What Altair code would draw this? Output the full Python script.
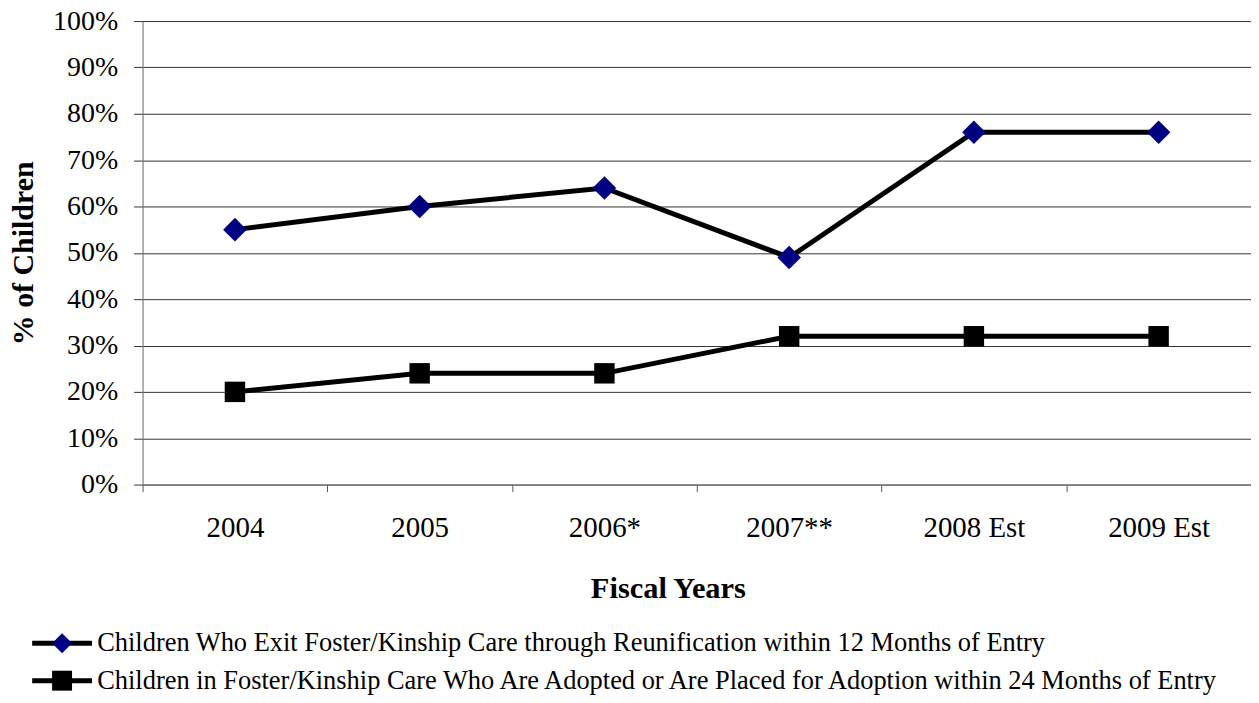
import altair as alt
import pandas as pd

years = ["2004", "2005", "2006*", "2007**", "2008 Est", "2009 Est"]
series_names = [
    "Children Who Exit Foster/Kinship Care through Reunification within 12 Months of Entry",
    "Children in Foster/Kinship Care Who Are Adopted or Are Placed for Adoption within 24 Months of Entry",
]
reunification = [55, 60, 64, 49, 76, 76]
adoption = [20, 24, 24, 32, 32, 32]
marker_shapes = ["diamond", "square"]
marker_colors = ["#000080", "black"]
marker_sizes = [560, 420]

rows = []
for name, vals in zip(series_names, [reunification, adoption]):
    for y, v in zip(years, vals):
        rows.append({"year": y, "value": v, "series": name, "series_pt": name})
df = pd.DataFrame(rows)

FONT = "Liberation Serif"
LEG_X, LEG_Y = -94, 611
LEG_FONT = 26.5
LEG_ROWPAD = 10.5

x_enc = alt.X(
    "year:N", sort=years, title="Fiscal Years",
    scale=alt.Scale(paddingInner=0, paddingOuter=0),
    axis=alt.Axis(
        labelAngle=0, labelFontSize=29, labelFont=FONT, labelColor="black",
        titleFont=FONT, titleFontSize=30.5, titleFontWeight="bold", titleColor="black",
        titlePadding=31, labelPadding=22, tickBand="extent", tickSize=7,
        tickColor="#555", domainColor="#777", grid=False,
        titleX=527, titleAlign="center",
    ),
)
y_enc = alt.Y(
    "value:Q", title="% of Children",
    scale=alt.Scale(domain=[0, 100], nice=False),
    axis=alt.Axis(
        values=list(range(0, 101, 10)), labelExpr="datum.value + '%'",
        labelFontSize=28, labelFont=FONT, labelColor="black", labelPadding=16,
        titleFont=FONT, titleFontSize=30, titleFontWeight="bold", titleColor="black",
        titlePadding=14, tickSize=9, tickColor="#333", domainColor="#777",
        gridColor="#333", gridWidth=1,
    ),
)

line = alt.Chart(df).mark_line(strokeWidth=5).encode(
    x=x_enc, y=y_enc,
    color=alt.Color(
        "series:N", sort=series_names,
        scale=alt.Scale(domain=series_names, range=["black", "black"]),
        legend=alt.Legend(
            orient="none", legendX=LEG_X, legendY=LEG_Y, title=None,
            symbolType="M-3,0H3", symbolSize=400, symbolStrokeWidth=5,
            labelFont=FONT, labelFontSize=LEG_FONT, labelColor="transparent",
            rowPadding=LEG_ROWPAD, labelLimit=2000, labelOffset=22,
        ),
    ),
    detail="series:N",
)

points = alt.Chart(df).mark_point(filled=True, opacity=1).encode(
    x=alt.X("year:N", sort=years),
    y="value:Q",
    shape=alt.Shape(
        "series_pt:N", sort=series_names,
        scale=alt.Scale(domain=series_names, range=marker_shapes),
        legend=alt.Legend(
            orient="none", legendX=LEG_X, legendY=LEG_Y, title=None,
            labelFont=FONT, labelFontSize=LEG_FONT, labelColor="black",
            rowPadding=LEG_ROWPAD, labelLimit=2000, symbolSize=400,
            symbolOpacity=1, labelOffset=22,
        ),
    ),
    fill=alt.Fill(
        "series_pt:N", sort=series_names,
        scale=alt.Scale(domain=series_names, range=marker_colors),
        legend=None,
    ),
    size=alt.Size(
        "series_pt:N", sort=series_names,
        scale=alt.Scale(domain=series_names, range=marker_sizes),
        legend=None,
    ),
)

chart = (
    alt.layer(line, points)
    .resolve_scale(color="independent", shape="independent", fill="independent")
    .properties(
        width=1112, height=465,
        autosize=alt.AutoSizeParams(type="none"),
        padding={"left": 135, "top": 12, "right": 0, "bottom": 210},
    )
    .configure_view(stroke=None)
    .configure(font=FONT)
)

chart.save("out.html", embed_options={"renderer": "svg", "actions": False})
